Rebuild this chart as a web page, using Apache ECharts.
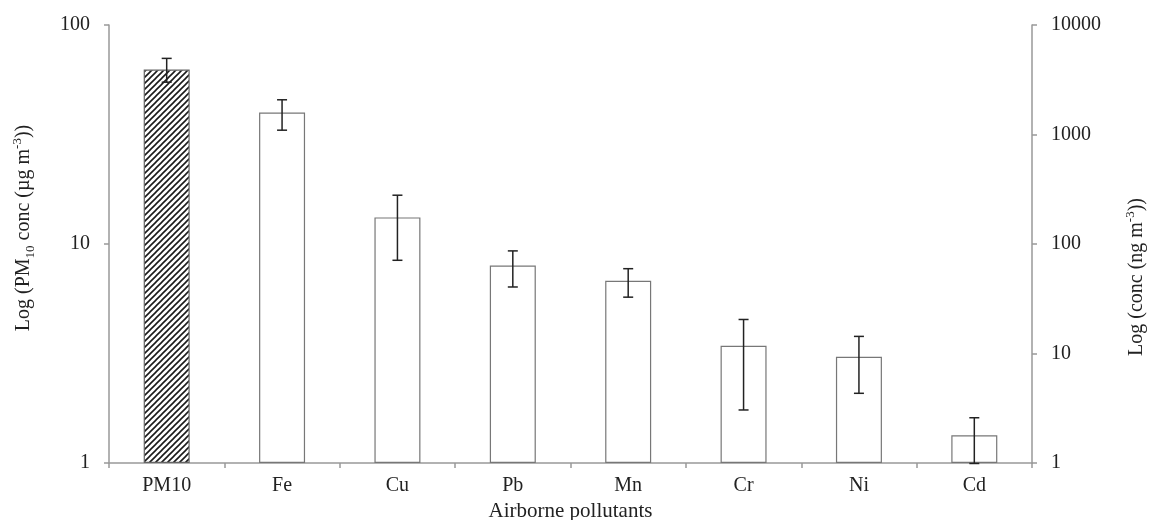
<!DOCTYPE html>
<html>
<head>
<meta charset="utf-8">
<script src="https://cdn.jsdelivr.net/npm/echarts@6/dist/echarts.min.js"></script>
<style>html,body{margin:0;padding:0;background:#fff}#c{width:1149px;height:520px}</style>
</head>
<body>
<div id="c"></div>
<script>
var categories = ['PM10', 'Fe', 'Cu', 'Pb', 'Mn', 'Cr', 'Ni', 'Cd'];
var pm10Value = [62.6];
var pm10Err = [7.8];
var metalValues = [1585, 175, 63.5, 46.1, 11.75, 9.33, 1.79];
var metalErr = [490, 104, 23, 13.4, 8.7, 5.0, 0.8];
var leftTicks = [1, 10, 100];
var rightTicks = [1, 10, 100, 1000, 10000];

var FONT = '"Liberation Serif", "Times New Roman", serif';

// hatch pattern
var pc = document.createElement('canvas');
pc.width = 6; pc.height = 6;
var ctx = pc.getContext('2d');
ctx.fillStyle = '#fff'; ctx.fillRect(0, 0, 6, 6);
ctx.strokeStyle = '#1a1a1a'; ctx.lineWidth = 1.6;
ctx.beginPath();
ctx.moveTo(-1, 7); ctx.lineTo(7, -1);
ctx.moveTo(-1, 1); ctx.lineTo(1, -1);
ctx.moveTo(5, 7); ctx.lineTo(7, 5);
ctx.stroke();

var pmData = categories.map(function (c, i) { return i === 0 ? pm10Value[0] : '-'; });
var metalData = categories.map(function (c, i) { return i === 0 ? '-' : metalValues[i - 1]; });
var pmErrData = [[0, pm10Value[0] - pm10Err[0], pm10Value[0] + pm10Err[0]]];
var metalErrData = metalValues.map(function (v, i) { return [i + 1, v - metalErr[i], v + metalErr[i]]; });

function errRender(params, api) {
  var x = api.value(0);
  var lo = api.coord([x, api.value(1)]);
  var hi = api.coord([x, api.value(2)]);
  var cap = 5;
  var st = { stroke: '#222', lineWidth: 1.5 };
  return {
    type: 'group',
    children: [
      { type: 'line', shape: { x1: hi[0], y1: hi[1], x2: lo[0], y2: lo[1] }, style: st },
      { type: 'line', shape: { x1: hi[0] - cap, y1: hi[1], x2: hi[0] + cap, y2: hi[1] }, style: st },
      { type: 'line', shape: { x1: lo[0] - cap, y1: lo[1], x2: lo[0] + cap, y2: lo[1] }, style: st }
    ]
  };
}

var axisLineStyle = { color: '#999', width: 1.5 };
var chart = echarts.init(document.getElementById('c'));
chart.setOption({
  animation: false,
  backgroundColor: '#fff',
  grid: { left: 109, right: 117, top: 25, bottom: 57, containLabel: false, outerBoundsMode: 'none' },
  xAxis: {
    type: 'category',
    data: categories,
    axisLine: { lineStyle: axisLineStyle },
    axisTick: { show: true, length: 5, lineStyle: axisLineStyle },
    axisLabel: { color: '#222', fontFamily: FONT, fontSize: 20, margin: 13 },
    name: 'Airborne pollutants',
    nameLocation: 'middle',
    nameGap: 38,
    nameTextStyle: { color: '#222', fontFamily: FONT, fontSize: 21 }
  },
  yAxis: [
    {
      type: 'log', logBase: 10, min: 1, max: 100, position: 'left',
      axisLine: { show: true, lineStyle: axisLineStyle },
      axisTick: { show: true, length: 5, lineStyle: axisLineStyle },
      splitLine: { show: false },
      axisLabel: { color: '#222', fontFamily: FONT, fontSize: 20, margin: 19,
        formatter: function (v) { return leftTicks.indexOf(Math.round(v)) >= 0 ? String(Math.round(v)) : ''; } }
    },
    {
      type: 'log', logBase: 10, min: 1, max: 10000, position: 'right',
      axisLine: { show: true, lineStyle: axisLineStyle },
      axisTick: { show: true, length: 5, lineStyle: axisLineStyle },
      splitLine: { show: false },
      axisLabel: { color: '#222', fontFamily: FONT, fontSize: 20, margin: 19,
        formatter: function (v) { return rightTicks.indexOf(Math.round(v)) >= 0 ? String(Math.round(v)) : ''; } }
    }
  ],
  graphic: [
    {
      type: 'text', x: 24, y: 228, rotation: Math.PI / 2,
      style: {
        text: 'Log (PM{sub|10} conc (µg m{sup|-3}))',
        fontFamily: FONT, fontSize: 20, fill: '#222',
        align: 'center', verticalAlign: 'middle',
        rich: {
          sub: { fontFamily: FONT, fontSize: 13, fill: '#222', verticalAlign: 'bottom', lineHeight: 26 },
          sup: { fontFamily: FONT, fontSize: 13, fill: '#222', verticalAlign: 'top', lineHeight: 26 }
        }
      }
    },
    {
      type: 'text', x: 1137, y: 277, rotation: Math.PI / 2,
      style: {
        text: 'Log (conc (ng m{sup|-3}))',
        fontFamily: FONT, fontSize: 20, fill: '#222',
        align: 'center', verticalAlign: 'middle',
        rich: {
          sup: { fontFamily: FONT, fontSize: 13, fill: '#222', verticalAlign: 'top', lineHeight: 26 }
        }
      }
    }
  ],
  series: [
    {
      type: 'bar', yAxisIndex: 0, data: pmData, barWidth: 46, barGap: '-100%',
      itemStyle: { color: { image: pc, repeat: 'repeat' }, borderColor: '#666', borderWidth: 1.2 }
    },
    {
      type: 'bar', yAxisIndex: 1, data: metalData, barWidth: 46, barGap: '-100%',
      itemStyle: { color: '#fff', borderColor: '#777', borderWidth: 1.2 }
    },
    { type: 'custom', yAxisIndex: 0, renderItem: errRender, data: pmErrData, z: 10 },
    { type: 'custom', yAxisIndex: 1, renderItem: errRender, data: metalErrData, z: 10 }
  ]
});
</script>
</body>
</html>
